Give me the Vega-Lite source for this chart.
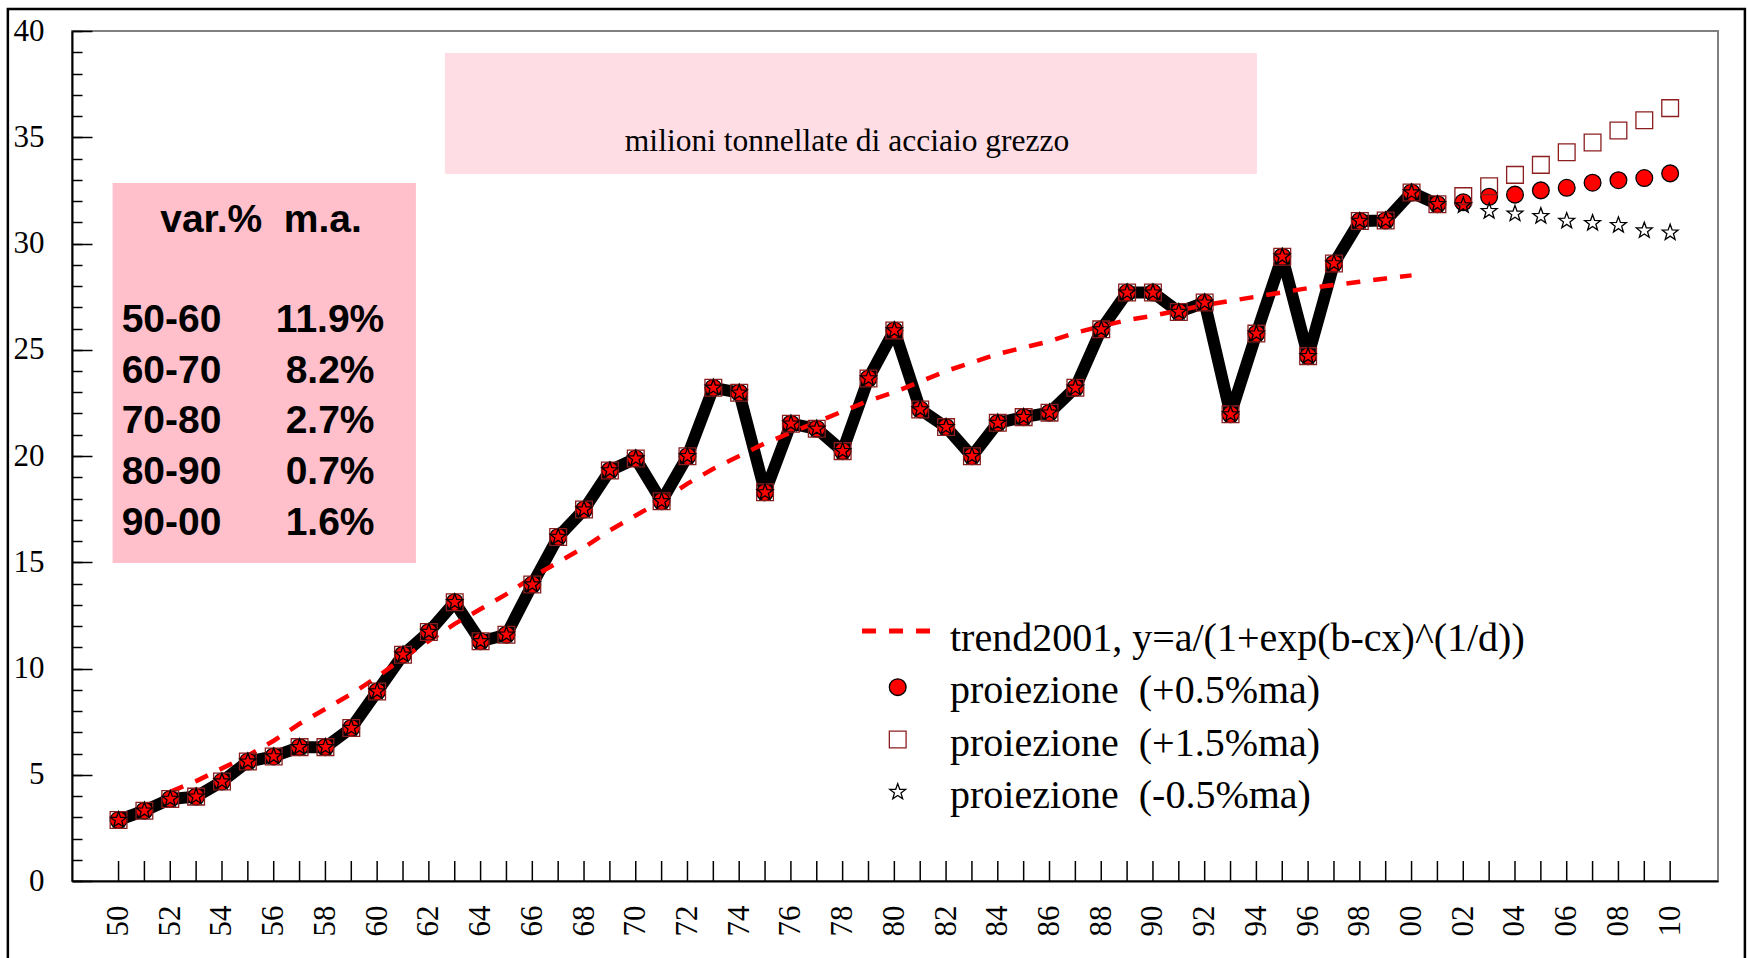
{
  "$schema": "https://vega.github.io/schema/vega-lite/v6.json",
  "width": 1646,
  "height": 850,
  "autosize": {"type": "none"},
  "padding": {"left": 72, "top": 31, "right": 30, "bottom": 77},
  "background": "white",
  "config": {"view": {"stroke": "#808080", "strokeWidth": 2}, "font": "Liberation Serif"},
  "datasets": {
    "anni": [
      {"anno":1950},{"anno":1951},{"anno":1952},{"anno":1953},{"anno":1954},{"anno":1955},{"anno":1956},{"anno":1957},{"anno":1958},{"anno":1959},
      {"anno":1960},{"anno":1961},{"anno":1962},{"anno":1963},{"anno":1964},{"anno":1965},{"anno":1966},{"anno":1967},{"anno":1968},{"anno":1969},
      {"anno":1970},{"anno":1971},{"anno":1972},{"anno":1973},{"anno":1974},{"anno":1975},{"anno":1976},{"anno":1977},{"anno":1978},{"anno":1979},
      {"anno":1980},{"anno":1981},{"anno":1982},{"anno":1983},{"anno":1984},{"anno":1985},{"anno":1986},{"anno":1987},{"anno":1988},{"anno":1989},
      {"anno":1990},{"anno":1991},{"anno":1992},{"anno":1993},{"anno":1994},{"anno":1995},{"anno":1996},{"anno":1997},{"anno":1998},{"anno":1999},
      {"anno":2000},{"anno":2001},{"anno":2002},{"anno":2003},{"anno":2004},{"anno":2005},{"anno":2006},{"anno":2007},{"anno":2008},{"anno":2009},{"anno":2010}
    ],
    "storico": [
      {"anno":1950,"valore":2.87},{"anno":1951,"valore":3.31},{"anno":1952,"valore":3.86},{"anno":1953,"valore":3.97},{"anno":1954,"valore":4.68},{"anno":1955,"valore":5.62},{"anno":1956,"valore":5.86},{"anno":1957,"valore":6.30},{"anno":1958,"valore":6.30},{"anno":1959,"valore":7.20},
      {"anno":1960,"valore":8.92},{"anno":1961,"valore":10.65},{"anno":1962,"valore":11.72},{"anno":1963,"valore":13.12},{"anno":1964,"valore":11.28},{"anno":1965,"valore":11.59},{"anno":1966,"valore":13.95},{"anno":1967,"valore":16.19},{"anno":1968,"valore":17.48},{"anno":1969,"valore":19.32},
      {"anno":1970,"valore":19.88},{"anno":1971,"valore":17.87},{"anno":1972,"valore":19.99},{"anno":1973,"valore":23.21},{"anno":1974,"valore":22.98},{"anno":1975,"valore":18.29},{"anno":1976,"valore":21.52},{"anno":1977,"valore":21.28},{"anno":1978,"valore":20.23},{"anno":1979,"valore":23.65},
      {"anno":1980,"valore":25.91},{"anno":1981,"valore":22.19},{"anno":1982,"valore":21.36},{"anno":1983,"valore":19.99},{"anno":1984,"valore":21.56},{"anno":1985,"valore":21.83},{"anno":1986,"valore":22.04},{"anno":1987,"valore":23.21},{"anno":1988,"valore":25.96},{"anno":1989,"valore":27.69},
      {"anno":1990,"valore":27.69},{"anno":1991,"valore":26.78},{"anno":1992,"valore":27.22},{"anno":1993,"valore":21.96},{"anno":1994,"valore":25.76},{"anno":1995,"valore":29.38},{"anno":1996,"valore":24.70},{"anno":1997,"valore":29.06},{"anno":1998,"valore":31.06},{"anno":1999,"valore":31.08},
      {"anno":2000,"valore":32.40},{"anno":2001,"valore":31.85}
    ],
    "proiezioni": [
      {"anno":2002,"serie":"proiezione\u00a0 (+0.5%ma)","valore":31.94},{"anno":2003,"serie":"proiezione\u00a0 (+0.5%ma)","valore":32.20},{"anno":2004,"serie":"proiezione\u00a0 (+0.5%ma)","valore":32.30},{"anno":2005,"serie":"proiezione\u00a0 (+0.5%ma)","valore":32.50},{"anno":2006,"serie":"proiezione\u00a0 (+0.5%ma)","valore":32.62},{"anno":2007,"serie":"proiezione\u00a0 (+0.5%ma)","valore":32.86},{"anno":2008,"serie":"proiezione\u00a0 (+0.5%ma)","valore":32.98},{"anno":2009,"serie":"proiezione\u00a0 (+0.5%ma)","valore":33.08},{"anno":2010,"serie":"proiezione\u00a0 (+0.5%ma)","valore":33.30},
      {"anno":2002,"serie":"proiezione\u00a0 (+1.5%ma)","valore":32.23},{"anno":2003,"serie":"proiezione\u00a0 (+1.5%ma)","valore":32.69},{"anno":2004,"serie":"proiezione\u00a0 (+1.5%ma)","valore":33.23},{"anno":2005,"serie":"proiezione\u00a0 (+1.5%ma)","valore":33.70},{"anno":2006,"serie":"proiezione\u00a0 (+1.5%ma)","valore":34.29},{"anno":2007,"serie":"proiezione\u00a0 (+1.5%ma)","valore":34.75},{"anno":2008,"serie":"proiezione\u00a0 (+1.5%ma)","valore":35.32},{"anno":2009,"serie":"proiezione\u00a0 (+1.5%ma)","valore":35.80},{"anno":2010,"serie":"proiezione\u00a0 (+1.5%ma)","valore":36.37},
      {"anno":2002,"serie":"proiezione\u00a0 (-0.5%ma)","valore":31.79},{"anno":2003,"serie":"proiezione\u00a0 (-0.5%ma)","valore":31.52},{"anno":2004,"serie":"proiezione\u00a0 (-0.5%ma)","valore":31.40},{"anno":2005,"serie":"proiezione\u00a0 (-0.5%ma)","valore":31.29},{"anno":2006,"serie":"proiezione\u00a0 (-0.5%ma)","valore":31.06},{"anno":2007,"serie":"proiezione\u00a0 (-0.5%ma)","valore":30.96},{"anno":2008,"serie":"proiezione\u00a0 (-0.5%ma)","valore":30.86},{"anno":2009,"serie":"proiezione\u00a0 (-0.5%ma)","valore":30.61},{"anno":2010,"serie":"proiezione\u00a0 (-0.5%ma)","valore":30.51}
    ],
    "trend": [
      {"anno":1952,"valore":4.2},{"anno":1953,"valore":4.7},{"anno":1954,"valore":5.3},{"anno":1955,"valore":5.9},{"anno":1956,"valore":6.6},{"anno":1957,"valore":7.4},{"anno":1958,"valore":8.1},{"anno":1959,"valore":8.8},
      {"anno":1960,"valore":9.6},{"anno":1961,"valore":10.5},{"anno":1962,"valore":11.3},{"anno":1963,"valore":12.1},{"anno":1964,"valore":12.8},{"anno":1965,"valore":13.5},{"anno":1966,"valore":14.3},{"anno":1967,"valore":15.0},{"anno":1968,"valore":15.7},{"anno":1969,"valore":16.5},
      {"anno":1970,"valore":17.2},{"anno":1971,"valore":17.9},{"anno":1972,"valore":18.7},{"anno":1973,"valore":19.4},{"anno":1974,"valore":20.0},{"anno":1975,"valore":20.6},{"anno":1976,"valore":21.1},{"anno":1977,"valore":21.6},{"anno":1978,"valore":22.1},{"anno":1979,"valore":22.6},
      {"anno":1980,"valore":23.0},{"anno":1981,"valore":23.5},{"anno":1982,"valore":24.0},{"anno":1983,"valore":24.4},{"anno":1984,"valore":24.8},{"anno":1985,"valore":25.1},{"anno":1986,"valore":25.4},{"anno":1987,"valore":25.8},{"anno":1988,"valore":26.1},{"anno":1989,"valore":26.4},
      {"anno":1990,"valore":26.6},{"anno":1991,"valore":26.85},{"anno":1992,"valore":27.1},{"anno":1993,"valore":27.3},{"anno":1994,"valore":27.5},{"anno":1995,"valore":27.7},{"anno":1996,"valore":27.9},{"anno":1997,"valore":28.05},{"anno":1998,"valore":28.2},{"anno":1999,"valore":28.35},{"anno":2000,"valore":28.5}
    ],
    "variazioni": [
      {"periodo":"50-60","variazione":"11.9%"},
      {"periodo":"60-70","variazione":"8.2%"},
      {"periodo":"70-80","variazione":"2.7%"},
      {"periodo":"80-90","variazione":"0.7%"},
      {"periodo":"90-00","variazione":"1.6%"}
    ],
    "legenda": [
      {"serie":"trend2001, y=a/(1+exp(b-cx)^(1/d))"},
      {"serie":"proiezione\u00a0 (+0.5%ma)"},
      {"serie":"proiezione\u00a0 (+1.5%ma)"},
      {"serie":"proiezione\u00a0 (-0.5%ma)"}
    ]
  },
  "layer": [
    {
      "data": {"values": [{"cornice": "bordo"}]},
      "mark": {"type": "rect", "fillOpacity": 0, "stroke": "black", "strokeWidth": 2.5, "clip": false},
      "encoding": {
        "x": {"datum": 1945.72, "type": "quantitative", "axis": null},
        "x2": {"datum": 2012.89},
        "y": {"datum": 41.04, "type": "quantitative", "axis": null},
        "y2": {"datum": -5}
      }
    },
    {
      "data": {"values": [{"riquadro": "tabella"}]},
      "mark": {"type": "rect", "fill": "#ffc0cb"},
      "encoding": {
        "x": {"datum": 1949.77, "type": "quantitative", "axis": null},
        "x2": {"datum": 1961.5},
        "y": {"datum": 32.85, "type": "quantitative", "axis": null},
        "y2": {"datum": 14.96}
      }
    },
    {
      "data": {"values": [{"riquadro": "titolo"}]},
      "mark": {"type": "rect", "fill": "#ffdde4"},
      "encoding": {
        "x": {"datum": 1962.62, "type": "quantitative", "axis": null},
        "x2": {"datum": 1994.02},
        "y": {"datum": 38.96, "type": "quantitative", "axis": null},
        "y2": {"datum": 33.27}
      }
    },
    {
      "data": {"values": [{"testo": "milioni tonnellate di acciaio grezzo"}]},
      "mark": {"type": "text", "font": "Liberation Serif", "fontSize": 31.5, "color": "black", "align": "center", "baseline": "alphabetic"},
      "encoding": {
        "x": {"datum": 1978.17, "type": "quantitative", "axis": null},
        "y": {"datum": 34.35, "type": "quantitative", "axis": null},
        "text": {"field": "testo"}
      }
    },
    {
      "data": {"values": [{"testo": "var.%\u00a0 m.a."}]},
      "mark": {"type": "text", "font": "Liberation Sans", "fontWeight": "bold", "fontSize": 39, "color": "black", "align": "center", "baseline": "alphabetic"},
      "encoding": {
        "x": {"datum": 1955.51, "type": "quantitative", "axis": null},
        "y": {"datum": 30.56, "type": "quantitative", "axis": null},
        "text": {"field": "testo"}
      }
    },
    {
      "data": {"name": "variazioni"},
      "mark": {"type": "text", "font": "Liberation Sans", "fontWeight": "bold", "fontSize": 39, "color": "black", "align": "left", "baseline": "alphabetic"},
      "encoding": {
        "x": {"datum": 1950.12, "type": "quantitative", "axis": null},
        "y": {"datum": 25.85, "type": "quantitative", "axis": null},
        "yOffset": {"field": "periodo", "type": "nominal", "scale": {"type": "point", "domain": ["50-60","60-70","70-80","80-90","90-00"], "range": [0, 203.3], "padding": 0}},
        "text": {"field": "periodo"}
      }
    },
    {
      "data": {"name": "variazioni"},
      "mark": {"type": "text", "font": "Liberation Sans", "fontWeight": "bold", "fontSize": 39, "color": "black", "align": "center", "baseline": "alphabetic"},
      "encoding": {
        "x": {"datum": 1958.18, "type": "quantitative", "axis": null},
        "y": {"datum": 25.85, "type": "quantitative", "axis": null},
        "yOffset": {"field": "periodo", "type": "nominal", "scale": {"type": "point", "domain": ["50-60","60-70","70-80","80-90","90-00"], "range": [0, 203.3], "padding": 0}},
        "text": {"field": "variazione"}
      }
    },
    {
      "data": {"name": "storico"},
      "mark": {"type": "line", "color": "black", "strokeWidth": 12, "strokeJoin": "round", "strokeCap": "round"},
      "encoding": {
        "x": {"field": "anno", "type": "quantitative", "axis": null},
        "y": {
          "field": "valore", "type": "quantitative",
          "axis": {"orient": "left", "values": [0,1,2,3,4,5,6,7,8,9,10,11,12,13,14,15,16,17,18,19,20,21,22,23,24,25,26,27,28,29,30,31,32,33,34,35,36,37,38,39,40], "tickSize": -10, "labels": false, "domain": false, "grid": false, "title": null, "tickColor": "black", "tickWidth": 1.5}
        }
      }
    },
    {
      "data": {"name": "trend"},
      "mark": {"type": "line", "color": "#ff0000", "strokeWidth": 4.5, "strokeDash": [14, 13]},
      "encoding": {
        "x": {"field": "anno", "type": "quantitative", "axis": null},
        "y": {"field": "valore", "type": "quantitative", "axis": null}
      }
    },
    {
      "data": {"name": "storico"},
      "mark": {"type": "point", "shape": "circle", "size": 280, "filled": true, "fill": "#ff0000", "stroke": "black", "strokeWidth": 1.3, "opacity": 1},
      "encoding": {
        "x": {"field": "anno", "type": "quantitative", "axis": null},
        "y": {"field": "valore", "type": "quantitative", "axis": null}
      }
    },
    {
      "data": {"name": "storico"},
      "mark": {"type": "point", "shape": "square", "size": 280, "fill": "transparent", "stroke": "#8b1f1f", "strokeWidth": 1.3, "opacity": 1},
      "encoding": {
        "x": {"field": "anno", "type": "quantitative", "axis": null},
        "y": {"field": "valore", "type": "quantitative", "axis": null}
      }
    },
    {
      "data": {"name": "storico"},
      "mark": {"type": "point", "shape": "M0,-1L0.24,-0.33L0.95,-0.31L0.39,0.13L0.59,0.81L0,0.41L-0.59,0.81L-0.39,0.13L-0.95,-0.31L-0.24,-0.33Z", "size": 280, "fill": "transparent", "stroke": "black", "strokeWidth": 1.3, "opacity": 1},
      "encoding": {
        "x": {"field": "anno", "type": "quantitative", "axis": null},
        "y": {"field": "valore", "type": "quantitative", "axis": null}
      }
    },
    {
      "data": {"name": "proiezioni"},
      "mark": {"type": "point", "size": 280, "strokeWidth": 1.3, "opacity": 1},
      "encoding": {
        "x": {
          "field": "anno", "type": "quantitative",
          "scale": {"domain": [1948.2, 2011.85], "nice": false, "zero": false},
          "axis": {
            "orient": "bottom",
            "values": [1950,1952,1954,1956,1958,1960,1962,1964,1966,1968,1970,1972,1974,1976,1978,1980,1982,1984,1986,1988,1990,1992,1994,1996,1998,2000,2002,2004,2006,2008,2010],
            "labelExpr": "substring(toString(datum.value), 2, 4)",
            "labelAngle": 270,
            "ticks": false,
            "domain": true,
            "domainColor": "black",
            "domainWidth": 2,
            "labelPadding": 24,
            "labelFont": "Liberation Serif",
            "labelFontSize": 31,
            "labelColor": "black",
            "grid": false,
            "title": null,
            "labelOverlap": false,
            "labelFlush": false,
            "labelBound": false
          }
        },
        "y": {
          "field": "valore", "type": "quantitative",
          "scale": {"domain": [0, 40], "nice": false},
          "axis": {
            "orient": "left",
            "values": [0,5,10,15,20,25,30,35,40],
            "tickSize": -20,
            "labelPadding": 48,
            "labelFont": "Liberation Serif",
            "labelFontSize": 31,
            "labelColor": "black",
            "tickColor": "black",
            "tickWidth": 1.5,
            "domainColor": "black",
            "domainWidth": 2,
            "grid": false,
            "title": null,
            "labelFlush": false,
            "labelOverlap": false
          }
        },
        "shape": {
          "field": "serie", "type": "nominal", "legend": null,
          "scale": {
            "domain": ["trend2001, y=a/(1+exp(b-cx)^(1/d))", "proiezione\u00a0 (+0.5%ma)", "proiezione\u00a0 (+1.5%ma)", "proiezione\u00a0 (-0.5%ma)"],
            "range": ["stroke", "circle", "square", "M0,-1L0.24,-0.33L0.95,-0.31L0.39,0.13L0.59,0.81L0,0.41L-0.59,0.81L-0.39,0.13L-0.95,-0.31L-0.24,-0.33Z"]
          }
        },
        "fill": {
          "field": "serie", "type": "nominal", "legend": null,
          "scale": {
            "domain": ["trend2001, y=a/(1+exp(b-cx)^(1/d))", "proiezione\u00a0 (+0.5%ma)", "proiezione\u00a0 (+1.5%ma)", "proiezione\u00a0 (-0.5%ma)"],
            "range": ["transparent", "#ff0000", "transparent", "transparent"]
          }
        },
        "stroke": {
          "field": "serie", "type": "nominal", "legend": null,
          "scale": {
            "domain": ["trend2001, y=a/(1+exp(b-cx)^(1/d))", "proiezione\u00a0 (+0.5%ma)", "proiezione\u00a0 (+1.5%ma)", "proiezione\u00a0 (-0.5%ma)"],
            "range": ["#ff0000", "#000000", "#8b1f1f", "#000000"]
          }
        }
      }
    },
    {
      "data": {"name": "legenda"},
      "transform": [{"filter": {"field": "serie", "equal": "trend2001, y=a/(1+exp(b-cx)^(1/d))"}}],
      "mark": {"type": "rule", "color": "#ff0000", "strokeWidth": 5, "strokeDash": [14, 13]},
      "encoding": {
        "x": {"datum": 1978.75, "type": "quantitative", "axis": null},
        "x2": {"datum": 1981.42},
        "y": {"datum": 11.76, "type": "quantitative", "axis": null}
      }
    },
    {
      "data": {"name": "legenda"},
      "transform": [{"filter": {"field": "serie", "oneOf": ["proiezione\u00a0 (+0.5%ma)", "proiezione\u00a0 (+1.5%ma)", "proiezione\u00a0 (-0.5%ma)"]}}],
      "mark": {"type": "point", "size": 280, "strokeWidth": 1.3, "opacity": 1},
      "encoding": {
        "x": {"datum": 1980.13, "type": "quantitative", "axis": null},
        "y": {"datum": 11.59, "type": "quantitative", "axis": null},
        "yOffset": {"field": "serie", "type": "nominal", "scale": {"type": "point", "domain": ["trend2001, y=a/(1+exp(b-cx)^(1/d))", "proiezione\u00a0 (+0.5%ma)", "proiezione\u00a0 (+1.5%ma)", "proiezione\u00a0 (-0.5%ma)"], "range": [0, 157.3], "padding": 0}},
        "shape": {"field": "serie", "type": "nominal", "legend": null},
        "fill": {"field": "serie", "type": "nominal", "legend": null},
        "stroke": {"field": "serie", "type": "nominal", "legend": null}
      }
    },
    {
      "data": {"name": "legenda"},
      "mark": {"type": "text", "font": "Liberation Serif", "fontSize": 40, "color": "black", "align": "left", "baseline": "alphabetic"},
      "encoding": {
        "x": {"datum": 1982.15, "type": "quantitative", "axis": null},
        "y": {"datum": 10.84, "type": "quantitative", "axis": null},
        "yOffset": {"field": "serie", "type": "nominal", "scale": {"type": "point", "domain": ["trend2001, y=a/(1+exp(b-cx)^(1/d))", "proiezione\u00a0 (+0.5%ma)", "proiezione\u00a0 (+1.5%ma)", "proiezione\u00a0 (-0.5%ma)"], "range": [0, 157.3], "padding": 0}},
        "text": {"field": "serie"}
      }
    },
    {
      "data": {"name": "anni"},
      "mark": {"type": "tick", "orient": "vertical", "color": "black", "thickness": 1.5, "size": 20, "opacity": 1},
      "encoding": {
        "x": {"field": "anno", "type": "quantitative", "axis": null},
        "y": {"datum": 0.47, "type": "quantitative", "axis": null}
      }
    }
  ],
  "resolve": {"axis": {"x": "independent", "y": "independent"}, "scale": {"yOffset": "independent"}}
}
